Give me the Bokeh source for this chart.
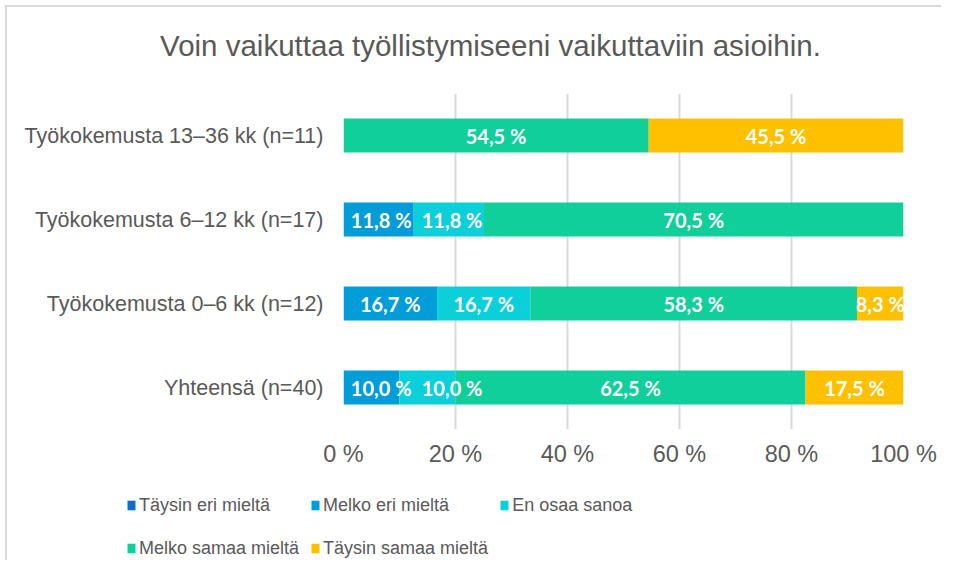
from bokeh.plotting import figure
from bokeh.layouts import column, row
from bokeh.models import (ColumnDataSource, FactorRange, Range1d, FixedTicker,
                          Legend, LegendItem, Label)
from bokeh.core.properties import value
from bokeh.embed import file_html
from bokeh.resources import INLINE

# ---------------- data ----------------
categories = ["Yhteensä (n=40)", "Työkokemusta 0–6 kk (n=12)",
              "Työkokemusta 6–12 kk (n=17)", "Työkokemusta 13–36 kk (n=11)"]
series_names = ["Täysin eri mieltä", "Melko eri mieltä", "En osaa sanoa",
                "Melko samaa mieltä", "Täysin samaa mieltä"]
taysin_eri = [0.0, 0.0, 0.0, 0.0]
melko_eri = [10.0, 16.7, 11.8, 0.0]
en_osaa = [10.0, 16.7, 11.8, 0.0]
melko_samaa = [62.5, 58.3, 70.5, 54.5]
taysin_samaa = [17.5, 8.3, 0.0, 45.5]
tick_values = [0, 20, 40, 60, 80, 100]
tick_labels = ["0 %", "20 %", "40 %", "60 %", "80 %", "100 %"]
title_text = "Voin vaikuttaa työllistymiseeni vaikuttaviin asioihin."

colors = ["#0F6FC6", "#009DD9", "#0BD0D9", "#10CF9B", "#FFC000"]
series = [taysin_eri, melko_eri, en_osaa, melko_samaa, taysin_samaa]
TXT = "#595959"
GRID = "#d9d9d9"

W, H0, H1, H2 = 941, 70, 410, 80
BL, BR, BT, BB = 343, 38, 23, 51
frame_w = W - BL - BR
px_per_unit = frame_w / 100.0


def strip(height, shadow):
    f = figure(width=W, height=height, output_backend="svg",
               toolbar_location=None, x_range=Range1d(0, 1),
               y_range=Range1d(0, 1), x_axis_location=None,
               y_axis_location=None, min_border_left=0, min_border_right=0,
               min_border_top=0, min_border_bottom=0)
    f.outline_line_color = None
    f.background_fill_color = None
    f.border_fill_color = None
    f.grid.grid_line_color = None
    f.styles = {"box-shadow": shadow, "background-color": "white"}
    return f


# ---------------- title strip ----------------
tf = strip(H0, "inset 5px 5px 0 0 white, inset 7px 7px 0 0 #d9d9d9")
tf.add_layout(Label(x=490, y=H0 - 45, x_units="screen", y_units="screen",
                    text=title_text, text_align="center",
                    text_baseline="middle", text_color=TXT,
                    text_font="Liberation Sans", text_font_size="29.5px"))

# ---------------- main chart ----------------
p = figure(width=W, height=H1, output_backend="svg", toolbar_location=None,
           y_range=FactorRange(factors=categories), x_range=Range1d(0, 100),
           min_border_left=BL, min_border_right=BR, min_border_top=BT,
           min_border_bottom=BB)
p.outline_line_color = None
p.background_fill_color = "white"
p.border_fill_color = None
p.styles = {"box-shadow": "inset 5px 0 0 0 white, inset 7px 0 0 0 #d9d9d9",
            "background-color": "white"}

# normalized stacking (100 % stacked bars)
totals = [sum(s[i] for s in series) for i in range(len(categories))]
lefts = [0.0] * len(categories)
seg_info = [[] for _ in categories]
for name, vals, col in zip(series_names, series, colors):
    norm = [v / t * 100.0 for v, t in zip(vals, totals)]
    rights = [l + n for l, n in zip(lefts, norm)]
    src = ColumnDataSource(dict(y=categories, left=lefts, right=rights))
    p.hbar(y="y", left="left", right="right", height=0.405, source=src,
           fill_color=col, line_color=None)
    for i, v in enumerate(vals):
        if v > 0:
            seg_info[i].append((lefts[i], rights[i], v))
    lefts = rights

# data labels, centered, nudged to avoid overlapping
lx, ly, lt = [], [], []
for i, segs in enumerate(seg_info):
    prev_right = None
    for k, (a, b, v) in enumerate(segs):
        txt = f"{v:.1f} %".replace(".", ",")
        w = 10.7 * len(txt) / px_per_unit
        left = (a + b) / 2 - w / 2
        if k == 0:
            left = max(left, 1.0)
        if prev_right is not None:
            left = max(left, prev_right + 1.2)
        prev_right = left + w
        lx.append(left + w / 2)
        ly.append(categories[i])
        lt.append(txt)
lsrc = ColumnDataSource(dict(x=lx, y=ly, t=lt))
p.text(x="x", y="y", text="t", source=lsrc, text_align="center",
       text_baseline="middle", text_color="white", text_font=value("Lato"),
       text_font_style="bold", text_font_size="20px")

# axes
p.xaxis.ticker = FixedTicker(ticks=tick_values)
p.xaxis.major_label_overrides = {v: l for v, l in zip(tick_values, tick_labels)}
for ax in (p.xaxis[0], p.yaxis[0]):
    ax.axis_line_color = None
    ax.major_tick_line_color = None
    ax.minor_tick_line_color = None
    ax.major_tick_out = 0
    ax.major_tick_in = 0
    ax.minor_tick_out = 0
    ax.major_label_text_color = TXT
    ax.major_label_text_font = "Liberation Sans"
p.xaxis.major_label_text_font_size = "23.5px"
p.xaxis.major_label_standoff = 11
p.yaxis.major_label_text_font_size = "21.5px"
p.yaxis.major_label_standoff = 20

p.xgrid.ticker = FixedTicker(ticks=tick_values)
p.xgrid.grid_line_color = GRID
p.xgrid.grid_line_width = 2
p.ygrid.grid_line_color = None

# ---------------- legend strip ----------------
lg = strip(H2, "inset 5px 0 0 0 white, inset 7px 0 0 0 #d9d9d9")
items = []
for name, col in zip(series_names, colors):
    r = lg.hbar(y=[0.5], left=[0.0], right=[0.0], height=0.5, fill_color=col,
                line_color=None)
    items.append(LegendItem(label=name, renderers=[r]))
legend = Legend(items=items, location=(126, -4), orientation="horizontal",
                ncols=3, glyph_width=10, glyph_height=12, label_standoff=3,
                spacing=11, label_height=32, padding=0, margin=0,
                border_line_color=None, background_fill_alpha=0,
                label_text_color=TXT, label_text_font="Liberation Sans",
                label_text_font_size="18px")
lg.add_layout(legend, "center")

layout = column(row(tf, spacing=0), p, row(lg, spacing=0), spacing=0)
open("out.html", "w").write(file_html(layout, INLINE))
